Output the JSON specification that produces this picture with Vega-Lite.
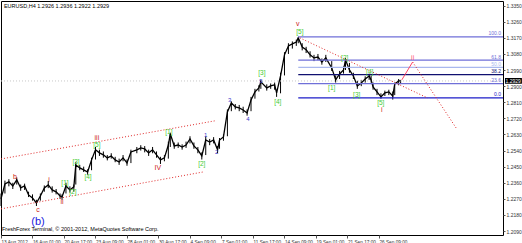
{
  "$schema": "https://vega.github.io/schema/vega-lite/v6.json",
  "width": 502,
  "height": 234,
  "padding": {"left": 1, "top": 1, "right": 19, "bottom": 8},
  "autosize": {"type": "none"},
  "background": "white",
  "config": {
    "view": {"stroke": "#000000", "strokeWidth": 1},
    "axis": {"grid": false, "domain": false, "labelFont": "Liberation Sans", "labelFontSize": 5, "labelColor": "#333333", "tickColor": "#555555", "tickSize": 2, "title": null, "labelOverlap": false, "labelBound": false, "labelFlush": false, "labelPadding": 1},
    "axisX": {"labelFontSize": 4.7, "labelAlign": "left", "labelBaseline": "top", "tickSize": 3}
  },
  "datasets": {
    "price": [
      {"i":0,"c":1.2270,"h":1.2300,"l":1.2230},{"i":2,"c":1.2353,"h":1.2372,"l":1.2300},{"i":4,"c":1.2365,"h":1.2380,"l":1.2340},{"i":6,"c":1.2342,"h":1.2360,"l":1.2325},{"i":8,"c":1.2376,"h":1.2390,"l":1.2350},
      {"i":10,"c":1.2331,"h":1.2350,"l":1.2315},{"i":12,"c":1.2342,"h":1.2355,"l":1.2320},{"i":14,"c":1.2292,"h":1.2310,"l":1.2280},{"i":16,"c":1.2275,"h":1.2295,"l":1.2260},{"i":18,"c":1.2247,"h":1.2265,"l":1.2230},
      {"i":20,"c":1.2286,"h":1.2300,"l":1.2260},{"i":22,"c":1.2331,"h":1.2345,"l":1.2310},{"i":24,"c":1.2348,"h":1.2370,"l":1.2330},{"i":26,"c":1.2320,"h":1.2340,"l":1.2305},{"i":28,"c":1.2309,"h":1.2325,"l":1.2295},
      {"i":30,"c":1.2286,"h":1.2300,"l":1.2270},{"i":31,"c":1.2281,"h":1.2295,"l":1.2265},{"i":33,"c":1.2342,"h":1.2360,"l":1.2300},{"i":35,"c":1.2320,"h":1.2340,"l":1.2305},{"i":37,"c":1.2337,"h":1.2350,"l":1.2310},
      {"i":38,"c":1.2460,"h":1.2475,"l":1.2350},{"i":40,"c":1.2443,"h":1.2460,"l":1.2430},{"i":42,"c":1.2432,"h":1.2450,"l":1.2420},{"i":44,"c":1.2420,"h":1.2435,"l":1.2405},{"i":46,"c":1.2488,"h":1.2500,"l":1.2430},
      {"i":48,"c":1.2544,"h":1.2560,"l":1.2490},{"i":50,"c":1.2527,"h":1.2545,"l":1.2510},{"i":52,"c":1.2516,"h":1.2535,"l":1.2500},{"i":54,"c":1.2499,"h":1.2515,"l":1.2485},{"i":56,"c":1.2510,"h":1.2525,"l":1.2495},
      {"i":58,"c":1.2488,"h":1.2505,"l":1.2475},{"i":60,"c":1.2476,"h":1.2495,"l":1.2460},{"i":62,"c":1.2499,"h":1.2515,"l":1.2480},{"i":64,"c":1.2471,"h":1.2490,"l":1.2455},{"i":66,"c":1.2532,"h":1.2545,"l":1.2470},
      {"i":69,"c":1.2544,"h":1.2560,"l":1.2525},{"i":71,"c":1.2555,"h":1.2570,"l":1.2540},{"i":73,"c":1.2549,"h":1.2565,"l":1.2530},{"i":75,"c":1.2527,"h":1.2545,"l":1.2510},{"i":77,"c":1.2544,"h":1.2560,"l":1.2525},
      {"i":79,"c":1.2516,"h":1.2535,"l":1.2500},{"i":81,"c":1.2488,"h":1.2505,"l":1.2465},{"i":83,"c":1.2499,"h":1.2515,"l":1.2480},{"i":85,"c":1.2571,"h":1.2590,"l":1.2495},{"i":86,"c":1.2633,"h":1.2640,"l":1.2560},
      {"i":88,"c":1.2566,"h":1.2585,"l":1.2550},{"i":90,"c":1.2571,"h":1.2585,"l":1.2555},{"i":92,"c":1.2560,"h":1.2575,"l":1.2545},{"i":94,"c":1.2571,"h":1.2590,"l":1.2555},{"i":96,"c":1.2605,"h":1.2620,"l":1.2580},
      {"i":98,"c":1.2566,"h":1.2585,"l":1.2550},{"i":100,"c":1.2544,"h":1.2560,"l":1.2525},{"i":102,"c":1.2510,"h":1.2530,"l":1.2490},{"i":104,"c":1.2599,"h":1.2620,"l":1.2515},{"i":106,"c":1.2588,"h":1.2605,"l":1.2570},
      {"i":108,"c":1.2599,"h":1.2615,"l":1.2580},{"i":110,"c":1.2544,"h":1.2565,"l":1.2525},{"i":111,"c":1.2599,"h":1.2610,"l":1.2550},{"i":113,"c":1.2616,"h":1.2630,"l":1.2595},{"i":115,"c":1.2756,"h":1.2770,"l":1.2620},
      {"i":117,"c":1.2806,"h":1.2815,"l":1.2760},{"i":119,"c":1.2784,"h":1.2800,"l":1.2770},{"i":121,"c":1.2778,"h":1.2795,"l":1.2760},{"i":123,"c":1.2767,"h":1.2785,"l":1.2750},{"i":125,"c":1.2750,"h":1.2770,"l":1.2735},
      {"i":127,"c":1.2823,"h":1.2840,"l":1.2760},{"i":129,"c":1.2868,"h":1.2885,"l":1.2830},{"i":131,"c":1.2890,"h":1.2905,"l":1.2870},{"i":132,"c":1.2924,"h":1.2935,"l":1.2885},{"i":135,"c":1.2890,"h":1.2910,"l":1.2875},
      {"i":137,"c":1.2901,"h":1.2915,"l":1.2885},{"i":139,"c":1.2907,"h":1.2920,"l":1.2880},{"i":140,"c":1.2862,"h":1.2880,"l":1.2840},{"i":142,"c":1.2957,"h":1.2975,"l":1.2860},{"i":144,"c":1.3075,"h":1.3090,"l":1.2960},
      {"i":146,"c":1.3125,"h":1.3140,"l":1.3080},{"i":148,"c":1.3136,"h":1.3150,"l":1.3110},{"i":150,"c":1.3147,"h":1.3160,"l":1.3125},{"i":151,"c":1.3170,"h":1.3172,"l":1.3140},{"i":153,"c":1.3119,"h":1.3140,"l":1.3100},
      {"i":155,"c":1.3103,"h":1.3120,"l":1.3085},{"i":157,"c":1.3075,"h":1.3095,"l":1.3060},{"i":159,"c":1.3058,"h":1.3075,"l":1.3040},{"i":161,"c":1.3063,"h":1.3080,"l":1.3045},{"i":163,"c":1.3035,"h":1.3055,"l":1.3020},
      {"i":165,"c":1.3058,"h":1.3075,"l":1.3035},{"i":168,"c":1.3002,"h":1.3040,"l":1.2985},{"i":170,"c":1.2935,"h":1.2960,"l":1.2920},{"i":172,"c":1.2968,"h":1.2985,"l":1.2940},{"i":174,"c":1.2991,"h":1.3010,"l":1.2970},
      {"i":175,"c":1.3047,"h":1.3055,"l":1.2990},{"i":177,"c":1.2991,"h":1.3030,"l":1.2975},{"i":179,"c":1.2957,"h":1.2975,"l":1.2940},{"i":181,"c":1.2901,"h":1.2930,"l":1.2885},{"i":183,"c":1.2918,"h":1.2935,"l":1.2900},
      {"i":185,"c":1.2940,"h":1.2955,"l":1.2920},{"i":187,"c":1.2957,"h":1.2970,"l":1.2935},{"i":188,"c":1.2935,"h":1.2960,"l":1.2920},{"i":189,"c":1.2896,"h":1.2920,"l":1.2880},{"i":191,"c":1.2868,"h":1.2885,"l":1.2850},
      {"i":193,"c":1.2840,"h":1.2860,"l":1.2830},{"i":195,"c":1.2862,"h":1.2875,"l":1.2845},{"i":197,"c":1.2868,"h":1.2880,"l":1.2850},{"i":199,"c":1.2845,"h":1.2870,"l":1.2825},{"i":200,"c":1.2912,"h":1.2920,"l":1.2850},
      {"i":202,"c":1.2929,"h":1.2940,"l":1.2905},{"i":203,"c":1.2929,"h":1.2935,"l":1.2915}
    ],
    "fib": [
      {"level":"100.0","p":1.3175,"i0":151,"i1":255},
      {"level":"61.8","p":1.3045,"i0":151,"i1":255},
      {"level":"50.0","p":1.3005,"i0":151,"i1":255},
      {"level":"38.2","p":1.2964,"i0":151,"i1":255},
      {"level":"23.6","p":1.2914,"i0":151,"i1":255},
      {"level":"0.0","p":1.2834,"i0":151,"i1":255}
    ],
    "dotted": [
      {"line":"upper","i":0,"p":1.2493},{"line":"upper","i":108.6,"p":1.2706},
      {"line":"lower","i":0,"p":1.2214},{"line":"lower","i":102.5,"p":1.2420},
      {"line":"trend","i":151.8,"p":1.3170},{"line":"trend","i":216.7,"p":1.2834},
      {"line":"proj","i":209.1,"p":1.3035},{"line":"proj","i":231.5,"p":1.2661}
    ],
    "projup": [
      {"i":203.6,"p":1.2935},{"i":209.1,"p":1.3035}
    ],
    "red": [
      {"t":"b","i":7.1,"p":1.2393},{"t":"c","i":18.8,"p":1.2208},{"t":"i","i":24.4,"p":1.2376},{"t":"ii","i":31,"p":1.2253},
      {"t":"iii","i":48.7,"p":1.2611},{"t":"IV","i":79.7,"p":1.2443},{"t":"v","i":150.8,"p":1.3248},{"t":"i","i":193.4,"p":1.2767}
    ],
    "pink": [{"t":"ii","i":209.1,"p":1.3058}],
    "green": [
      {"t":"[1]","i":32.5,"p":1.2359},{"t":"[2]","i":36.5,"p":1.2309},{"t":"[3]","i":38.1,"p":1.2476},{"t":"[4]","i":44.2,"p":1.2393},{"t":"[5]","i":48.7,"p":1.2571},
      {"t":"[1]","i":85.3,"p":1.2644},{"t":"[2]","i":102,"p":1.2465},{"t":"[3]","i":132.5,"p":1.2974},{"t":"[4]","i":140.6,"p":1.2812},{"t":"[5]","i":151.8,"p":1.3203},
      {"t":"[1]","i":168,"p":1.2890},{"t":"[2]","i":174.6,"p":1.3058},{"t":"[3]","i":180.7,"p":1.2851},{"t":"[4]","i":187.3,"p":1.2980},{"t":"[5]","i":192.9,"p":1.2806}
    ],
    "blue": [
      {"t":"1","i":104,"p":1.2627},{"t":"2","i":109.6,"p":1.2532},{"t":"3","i":116.2,"p":1.2823},{"t":"4","i":125.4,"p":1.2717},{"t":"5","i":132,"p":1.2929}
    ],
    "notes": [
      {"t":"EURUSD,H4  1.2926 1.2936 1.2922 1.2929","i":1.5,"p":1.3348},
      {"t":"FreshForex Terminal, © 2001-2012, MetaQuotes Software Corp.","i":0.5,"p":1.2102}
    ],
    "bid": [{"p":1.2929,"i0":256,"i1":264.6,"hi":1.2945,"lo":1.2913,"t":"1.2929"}]
  },
  "encoding": {
    "x": {"type": "quantitative", "scale": {"domain": [0, 255], "nice": false, "zero": false}},
    "y": {"type": "quantitative", "scale": {"domain": [1.2068, 1.3376], "nice": false, "zero": false}}
  },
  "layer": [
    {
      "data": {"name": "price"},
      "mark": {"type": "rule", "color": "#000000", "strokeWidth": 1},
      "encoding": {
        "x": {"field": "i", "type": "quantitative",
          "axis": {"orient": "bottom", "values": [0,16,32,48,64,80,96,112,128,144,160,176,192], "labelOverlap": false,
            "labelExpr": "['13 Aug 2012','16 Aug 01:00','20 Aug 17:00','23 Aug 09:00','28 Aug 01:00','30 Aug 17:00','4 Sep 09:00','7 Sep 01:00','11 Sep 17:00','14 Sep 09:00','19 Sep 01:00','21 Sep 17:00','26 Sep 09:00'][round(datum.value/16)]"}},
        "y": {"field": "l", "type": "quantitative",
          "axis": {"orient": "right", "values": [1.2090,1.2180,1.2270,1.2360,1.2450,1.2540,1.2630,1.2720,1.2810,1.2900,1.2990,1.3080,1.3170,1.3260,1.3350], "format": ".4f", "labelOverlap": false, "tickCount": 15}},
        "y2": {"field": "h"}
      }
    },
    {
      "data": {"name": "bid"},
      "mark": {"type": "rule", "color": "#c8c8c8", "strokeDash": [1, 2], "strokeWidth": 1},
      "encoding": {"y": {"field": "p", "type": "quantitative"}}
    },
    {
      "data": {"name": "price"},
      "mark": {"type": "line", "color": "#000000", "strokeWidth": 1.3},
      "encoding": {
        "x": {"field": "i", "type": "quantitative"},
        "y": {"field": "c", "type": "quantitative"}
      }
    },
    {
      "data": {"name": "fib"},
      "mark": {"type": "rule", "strokeWidth": 1.2},
      "encoding": {
        "x": {"field": "i0", "type": "quantitative"},
        "x2": {"field": "i1"},
        "y": {"field": "p", "type": "quantitative"},
        "color": {"field": "level", "type": "nominal", "legend": null,
          "scale": {"domain": ["100.0","61.8","50.0","38.2","23.6","0.0"], "range": ["#6f6fd8","#6f6fd8","#a9b8ee","#101070","#6f6fd8","#1c1cc8"]}}
      }
    },
    {
      "data": {"name": "fib"},
      "mark": {"type": "text", "align": "right", "baseline": "bottom", "dy": -0.5, "font": "Liberation Sans", "fontSize": 5},
      "encoding": {
        "x": {"datum": 254},
        "y": {"field": "p", "type": "quantitative"},
        "text": {"field": "level"},
        "color": {"field": "level", "type": "nominal", "legend": null,
          "scale": {"domain": ["100.0","61.8","50.0","38.2","23.6","0.0"], "range": ["#6f6fd8","#6f6fd8","#a9b8ee","#101070","#6f6fd8","#1c1cc8"]}}
      }
    },
    {
      "data": {"name": "dotted"},
      "mark": {"type": "line", "color": "#e02828", "strokeWidth": 1, "strokeDash": [1, 2]},
      "encoding": {
        "x": {"field": "i", "type": "quantitative"},
        "y": {"field": "p", "type": "quantitative"},
        "detail": {"field": "line"}
      }
    },
    {
      "data": {"name": "projup"},
      "mark": {"type": "line", "color": "#ff4466", "strokeWidth": 1},
      "encoding": {
        "x": {"field": "i", "type": "quantitative"},
        "y": {"field": "p", "type": "quantitative"}
      }
    },
    {
      "data": {"name": "red"},
      "mark": {"type": "text", "color": "#cc2020", "font": "Liberation Sans", "fontSize": 7, "baseline": "middle"},
      "encoding": {"x": {"field": "i", "type": "quantitative"}, "y": {"field": "p", "type": "quantitative"}, "text": {"field": "t"}}
    },
    {
      "data": {"name": "pink"},
      "mark": {"type": "text", "color": "#ff5577", "font": "Liberation Sans", "fontSize": 7, "baseline": "middle"},
      "encoding": {"x": {"field": "i", "type": "quantitative"}, "y": {"field": "p", "type": "quantitative"}, "text": {"field": "t"}}
    },
    {
      "data": {"name": "green"},
      "mark": {"type": "text", "color": "#44cc33", "font": "Liberation Sans", "fontSize": 6.5, "baseline": "middle"},
      "encoding": {"x": {"field": "i", "type": "quantitative"}, "y": {"field": "p", "type": "quantitative"}, "text": {"field": "t"}}
    },
    {
      "data": {"name": "blue"},
      "mark": {"type": "text", "color": "#3a3acc", "font": "Liberation Sans", "fontSize": 6, "baseline": "middle"},
      "encoding": {"x": {"field": "i", "type": "quantitative"}, "y": {"field": "p", "type": "quantitative"}, "text": {"field": "t"}}
    },
    {
      "data": {"values": [{"t": "(b)", "i": 18.8, "p": 1.2141}]},
      "mark": {"type": "text", "color": "#2020dd", "font": "Liberation Sans", "fontSize": 11, "baseline": "middle"},
      "encoding": {"x": {"field": "i", "type": "quantitative"}, "y": {"field": "p", "type": "quantitative"}, "text": {"field": "t"}}
    },
    {
      "data": {"name": "notes"},
      "mark": {"type": "text", "color": "#000000", "font": "Liberation Sans", "fontSize": 5.5, "align": "left", "baseline": "middle"},
      "encoding": {"x": {"field": "i", "type": "quantitative"}, "y": {"field": "p", "type": "quantitative"}, "text": {"field": "t"}}
    },
    {
      "data": {"name": "bid"},
      "mark": {"type": "rect", "color": "#000000"},
      "encoding": {"x": {"field": "i0", "type": "quantitative"}, "x2": {"field": "i1"}, "y": {"field": "hi", "type": "quantitative"}, "y2": {"field": "lo"}}
    },
    {
      "data": {"name": "bid"},
      "mark": {"type": "text", "color": "#ffffff", "font": "Liberation Sans", "fontSize": 5, "align": "left", "baseline": "middle", "dx": 0.5},
      "encoding": {"x": {"field": "i0", "type": "quantitative"}, "y": {"field": "p", "type": "quantitative"}, "text": {"field": "t"}}
    }
  ]
}
